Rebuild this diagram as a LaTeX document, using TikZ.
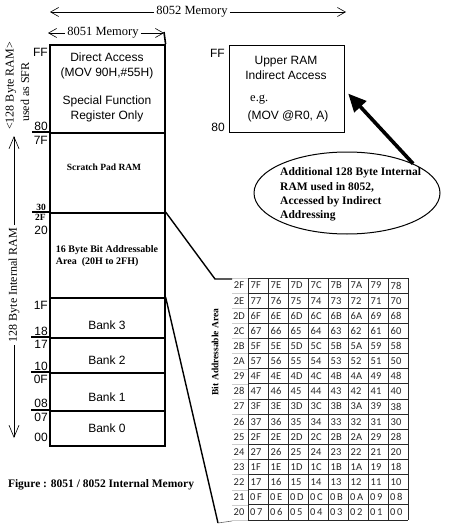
\documentclass[tikz,border=0pt]{standalone}
\usepackage{fontspec}
\setmainfont{Liberation Serif}
\newfontfamily\sansA{Liberation Sans}
\newfontfamily\tabf{Carlito}
\usetikzlibrary{arrows.meta,shapes.geometric}
\begin{document}
\begin{tikzpicture}[x=1pt,y=-1pt,
  memb/.style={draw, line width=1.6pt, rectangle, inner sep=0pt, minimum width=115pt, anchor=north west},
  upb/.style={draw, line width=1.2pt, rectangle, inner sep=0pt, anchor=north west},
  sanst/.style={font=\sansA\fontsize{12}{15}\selectfont, inner sep=0pt, align=center},
  addr/.style={font=\sansA\fontsize{12}{14}\selectfont, inner sep=0pt, anchor=east},
  addrs/.style={font=\bfseries\fontsize{9.5}{10}\selectfont, inner sep=0pt, anchor=east},
  boldt/.style={font=\bfseries\fontsize{10}{12.5}\selectfont, inner sep=0pt, align=left},
  sert/.style={font=\fontsize{12.5}{15}\selectfont, inner sep=2pt},
  vert/.style={font=\fontsize{12}{14}\selectfont, inner sep=3pt, rotate=90},
  barb/.style={-{Straight Barb[length=8pt,width=9pt]}, line width=0.6pt},
  vbarb/.style={-{Straight Barb[length=12pt,width=10pt]}, line width=0.6pt},
  div/.style={line width=1.6pt},
  conn/.style={line width=1.4pt},
  bigarrow/.style={-{Triangle[length=18pt,width=16pt]}, line width=3.6pt},
  grid/.style={line width=0.8pt, black!85},
  lgrid/.style={line width=0.5pt, black!20},
  tlab/.style={font=\tabf\fontsize{10.5}{12}\selectfont, inner sep=0pt, text=black!85},
  tcell/.style={font=\tabf\fontsize{10.5}{12}\selectfont, inner sep=0pt, anchor=west, text=black!85},
  tcellw/.style={font=\tabf\fontsize{10.5}{12}\selectfont\addfontfeature{LetterSpace=16}, inner sep=0pt, anchor=west, text=black!85}
]
\useasboundingbox (0,0) rectangle (474,527);

% ---- top dimension arrows
\node[sert] (t52) at (192,12) {8052 Memory};
\coordinate (a52l) at (50,12);
\coordinate (a52r) at (346,12);
\draw[barb] (t52.west) -- (a52l);
\draw[barb] (t52.east) -- (a52r);

\node[sert] (t51) at (103,33) {8051 Memory};
\coordinate (a51l) at (48,33);
\coordinate (a51r) at (164,33);
\draw[barb] (t51.west) -- (a51l);
\draw[barb] (t51.east) -- (a51r);

% ---- main memory column
\node[memb, minimum height=88pt] (sfr) at (49,44) {};
\node[memb, minimum height=80pt] (scratch) at (49,132) {};
\node[memb, minimum height=85pt] (bitarea) at (49,212) {};
\node[memb, minimum height=40pt] (bank3) at (49,297) {};
\node[memb, minimum height=35pt] (bank2) at (49,337) {};
\node[memb, minimum height=38pt] (bank1) at (49,372) {};
\node[memb, minimum height=35pt] (bank0) at (49,410) {};
\coordinate (rtop) at (164,32);
\draw[div] (sfr.north east) -- (rtop);

% divider extensions
\coordinate (e80) at (32,132);
\coordinate (e30) at (32,212);
\coordinate (e18) at (31,337);
\coordinate (e10) at (31,372);
\coordinate (e08) at (31,410);
\draw[div] (e80) -- (scratch.north west);
\draw[div] (e30) -- (bitarea.north west);
\draw[div] (e18) -- (bank2.north west);
\draw[div] (e10) -- (bank1.north west);
\draw[div] (e08) -- (bank0.north west);

% texts in boxes
\node[sanst] (sfrtxt) at (107,87) {Direct Access\\(MOV 90H,\#55H)\\[13pt]Special Function\\Register Only};
\node[boldt, font=\bfseries\fontsize{9.5}{11}\selectfont] (scrtxt) at (104,167) {Scratch Pad RAM};
\node[boldt] (bittxt) at (107,256) {16 Byte Bit Addressable\\Area\ \ (20H to 2FH)};
\node[sanst] (b3txt) at (107,325) {Bank 3};
\node[sanst] (b2txt) at (107,360) {Bank 2};
\node[sanst] (b1txt) at (107,397) {Bank 1};
\node[sanst] (b0txt) at (107,428) {Bank 0};

% addresses
\node[addr] (aFF) at (48,52) {FF};
\node[addr] (a80) at (48,126) {80};
\node[addr] (a7F) at (48,140) {7F};
\node[addrs] (a30) at (46,207) {30};
\node[addrs] (a2F) at (46,217) {2F};
\node[addr] (a20) at (48,230) {20};
\node[addr] (a1F) at (48,305) {1F};
\node[addr] (a18) at (48,331) {18};
\node[addr] (a17) at (48,344) {17};
\node[addr] (a10) at (48,366) {10};
\node[addr] (a0F) at (48,379) {0F};
\node[addr] (a08) at (48,403) {08};
\node[addr] (a07) at (48,417) {07};
\node[addr] (a00) at (48,437) {00};

% left vertical labels
\node[vert] (lsfr1) at (11,86) {<128 Byte RAM>};
\node[vert] (lsfr2) at (25,92) {used as SFR};
\node[vert] (lint) at (14,285) {128 Byte Internal RAM};
\coordinate (vtop) at (14,136);
\coordinate (vbot) at (14,438);
\draw[vbarb] (lint.east) -- (vtop);
\draw[vbarb] (lint.west) -- (vbot);

% ---- upper RAM (8052)
\node[upb, minimum width=115pt, minimum height=87pt] (upper) at (229,45) {};
\node[addr] (uFF) at (225,53) {FF};
\node[addr] (u80) at (225,127) {80};
\node[sanst] (uptxt) at (286,67.5) {Upper RAM\\Indirect Access};
\node[sert, anchor=west, inner sep=0pt] (eg) at (250,100) {e.g.};
\node[sanst] (movr0) at (288,116) {(MOV @R0, A)};

% ellipse callout
\node[draw, ellipse, line width=1pt, minimum width=186pt, minimum height=82pt, inner sep=0pt] (ell) at (347,193) {};
\node[boldt, font=\bfseries\fontsize{11.5}{14.3}\selectfont, anchor=west] (elltxt) at (280,194.5) {Additional 128 Byte Internal\\RAM used in 8052,\\Accessed by Indirect\\Addressing};
\draw[bigarrow] (ell.north east) -- ([xshift=3pt,yshift=-4.5pt]upper.east);

% ---- bit addressable table
\def\tabrows{{2F,7F,7E,7D,7C,7B,7A,79,78},{2E,77,76,75,74,73,72,71,70},{2D,6F,6E,6D,6C,6B,6A,69,68},{2C,67,66,65,64,63,62,61,60},{2B,5F,5E,5D,5C,5B,5A,59,58},{2A,57,56,55,54,53,52,51,50},{29,4F,4E,4D,4C,4B,4A,49,48},{28,47,46,45,44,43,42,41,40},{27,3F,3E,3D,3C,3B,3A,39,38},{26,37,36,35,34,33,32,31,30},{25,2F,2E,2D,2C,2B,2A,29,28},{24,27,26,25,24,23,22,21,20},{23,1F,1E,1D,1C,1B,1A,19,18},{22,17,16,15,14,13,12,11,10},{21,0F,0E,0D,0C,0B,0A,09,08},{20,07,06,05,04,03,02,01,00}}
\foreach \i in {0,...,16} {
  \draw[lgrid] (232,{278+15.125*\i}) -- (248,{278+15.125*\i});
  \draw[grid] (248,{278+15.125*\i}) -- (408,{278+15.125*\i});
}
\foreach \j in {0,...,8} {
  \draw[grid] ({248+20*\j},278) -- ({248+20*\j},520);
}
\foreach \row [count=\r] in \tabrows {
  \foreach \v [count=\k] in \row {
    \ifnum\k=1
      \node[tlab] (t\r-\k) at (239,{278+15.125*(\r-0.5)}) {\v};
    \else
      \ifnum\r>14
        \node[tcellw] (t\r-\k) at ({248+20*(\k-2)+2},{278+15.125*(\r-0.5)}) {\v};
      \else
        \node[tcell] (t\r-\k) at ({248+20*(\k-2)+2.5},{278+15.125*(\r-0.5)}) {\v};
      \fi
    \fi
  }
}
\node[font=\bfseries\fontsize{9.5}{11}\selectfont, rotate=90, inner sep=0pt] (bitlab) at (215,352) {Bit Addressable Area};

% connectors from memory column to table
\coordinate (bend1) at (215,279);
\coordinate (tabtl) at (232,279);
\draw[conn] (bitarea.north east) -- (bend1) -- (tabtl);
\coordinate (bend2) at (218,523);
\coordinate (tabbl) at (232,521);
\draw[conn] (bank3.north east) -- (bend2);
\draw[line width=0.6pt, black!60] (bend2) -- (tabbl);

% caption
\node[font=\bfseries\fontsize{11.5}{13}\selectfont, inner sep=0pt] (cap) at (101,485) {Figure : 8051 / 8052 Internal Memory};
\end{tikzpicture}
\end{document}
